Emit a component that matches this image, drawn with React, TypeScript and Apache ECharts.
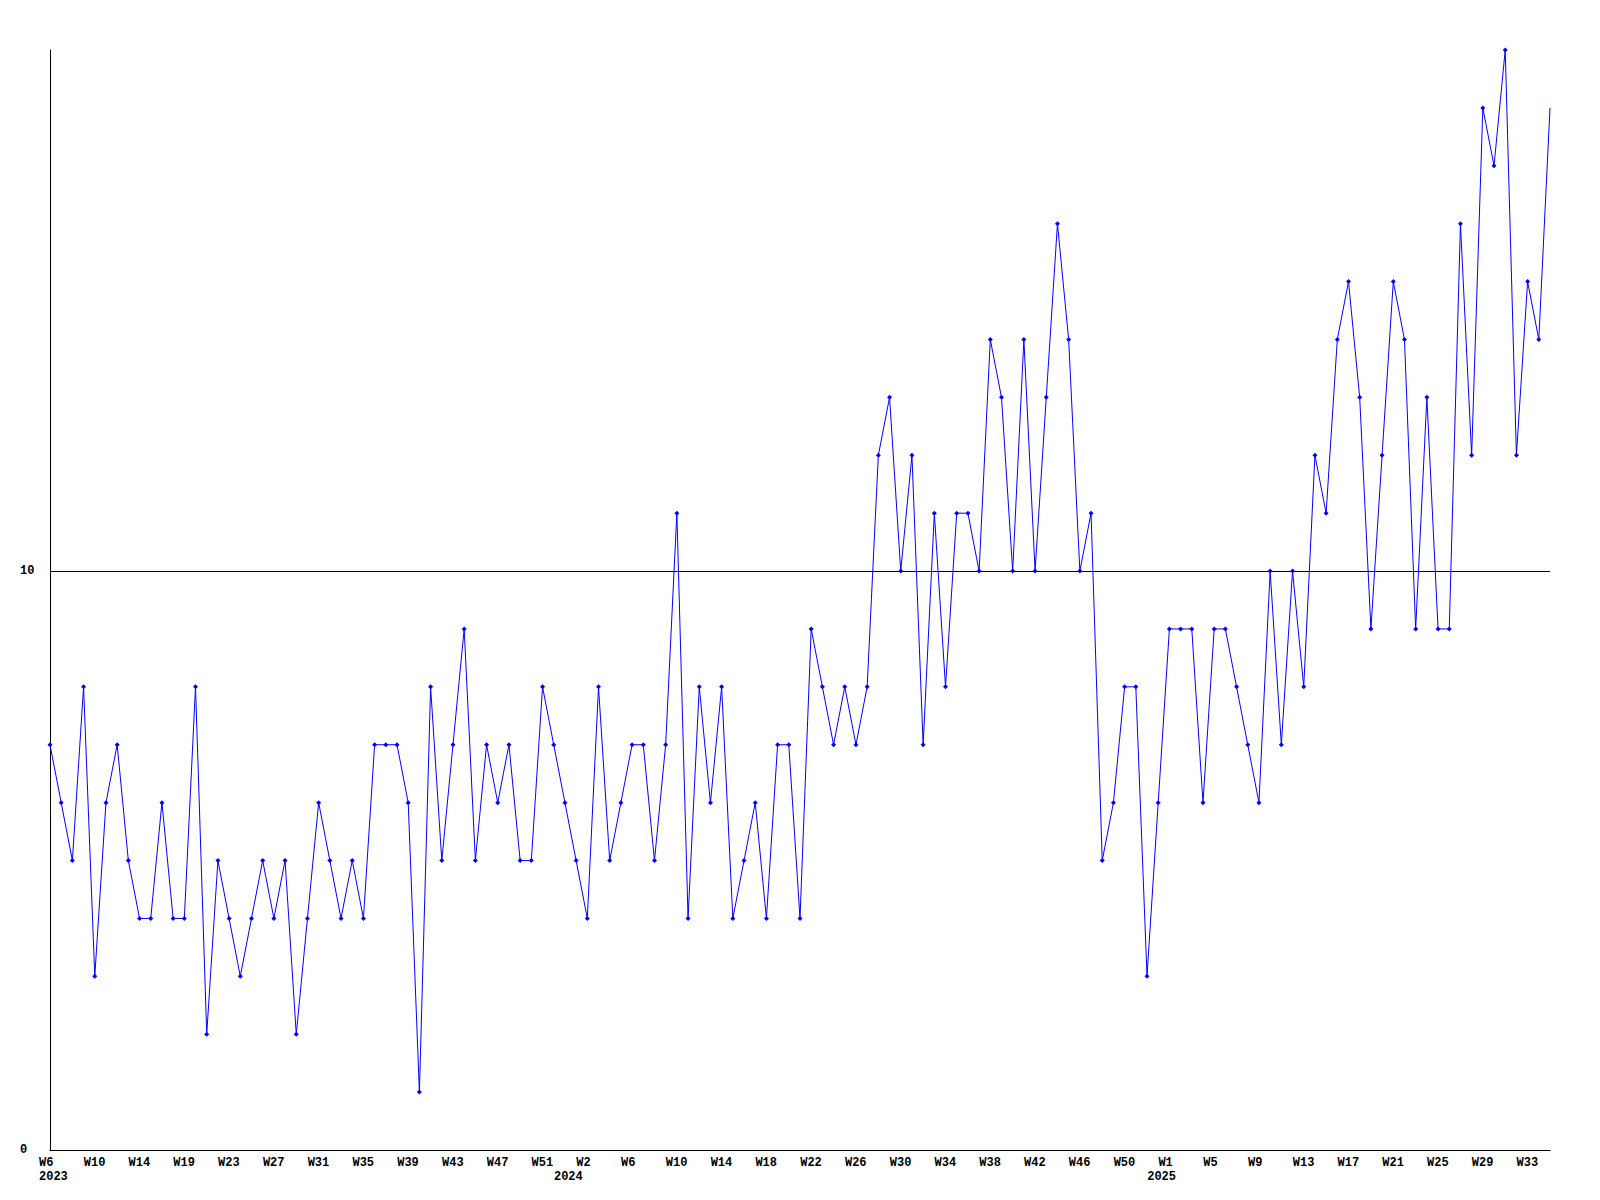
import React, { useEffect, useRef } from "react";
import * as echarts from "echarts";

// Weekly values, W6 2023 .. W35 2025
const values: number[] = [
  7, 6, 5, 8, 3, 6, 7, 5, 4, 4, 6, 4, 4, 8, 2, 5, 4, 3, 4, 5,
  4, 5, 2, 4, 6, 5, 4, 5, 4, 7, 7, 7, 6, 1, 8, 5, 7, 9, 5, 7,
  6, 7, 5, 5, 8, 7, 6, 5, 4, 8, 5, 6, 7, 7, 5, 7, 11, 4, 8, 6,
  8, 4, 5, 6, 4, 7, 7, 4, 9, 8, 7, 8, 7, 8, 12, 13, 10, 12, 7, 11,
  8, 11, 11, 10, 14, 13, 10, 14, 10, 13, 16, 14, 10, 11, 5, 6, 8, 8, 3, 6,
  9, 9, 9, 6, 9, 9, 8, 7, 6, 10, 7, 10, 8, 12, 11, 14, 15, 13, 9, 12,
  15, 14, 9, 13, 9, 9, 16, 12, 18, 17, 19, 12, 15, 14, 18,
];

// Week tick labels, one every 4 points starting at the first point
const weekTickLabels: string[] = [
  "W6", "W10", "W14", "W19", "W23", "W27", "W31", "W35", "W39", "W43",
  "W47", "W51", "W2", "W6", "W10", "W14", "W18", "W22", "W26", "W30",
  "W34", "W38", "W42", "W46", "W50", "W1", "W5", "W9", "W13", "W17",
  "W21", "W25", "W29", "W33",
];
const weekTickStep = 4;

// Year labels and the point index they sit under
const yearLabels: string[] = ["2023", "2024", "2025"];
const yearLabelIndex: number[] = [0, 46, 99];

const yMin = 0;
const yMax = 19;
const yInterval = 10;

export default function App() {
  const ref = useRef<HTMLDivElement>(null);

  useEffect(() => {
    if (!ref.current) return;
    const chart = echarts.init(ref.current, undefined, { renderer: "svg" });

    const categories = values.map((_, i) => {
      const w = i % weekTickStep === 0 ? weekTickLabels[i / weekTickStep] || "" : "";
      const yi = yearLabelIndex.indexOf(i);
      const y = yi >= 0 ? yearLabels[yi] : "";
      return w + "\n" + y;
    });

    const seriesData = values.map((v, i) =>
      i === values.length - 1 ? { value: v, symbol: "none" } : v
    );

    const font = "'Liberation Mono', 'DejaVu Sans Mono', monospace";

    chart.setOption({
      animation: false,
      backgroundColor: "#ffffff",
      grid: { left: 50, right: 50, top: 50, bottom: 50, containLabel: false },
      xAxis: {
        type: "category",
        data: categories,
        boundaryGap: false,
        axisLine: { show: true, lineStyle: { color: "#000", width: 1 } },
        axisTick: { show: false },
        splitLine: { show: false },
        axisLabel: {
          interval: 0,
          align: "left",
          padding: [0, 0, 0, -11],
          margin: 6,
          color: "#000",
          fontFamily: font,
          fontWeight: "bold",
          fontSize: 12,
          lineHeight: 14,
        },
      },
      yAxis: {
        type: "value",
        min: yMin,
        max: yMax,
        interval: yInterval,
        axisLine: { show: true, lineStyle: { color: "#000", width: 1 } },
        axisTick: { show: false },
        splitLine: {
          show: true,
          lineStyle: { color: ["#000", "#000", "rgba(0,0,0,0)"], width: 1 },
        },
        axisLabel: {
          showMaxLabel: false,
          align: "left",
          margin: 30,
          color: "#000",
          fontFamily: font,
          fontWeight: "bold",
          fontSize: 12,
        },
      },
      series: [
        {
          type: "line",
          data: seriesData,
          symbol: "diamond",
          symbolSize: 5,
          showAllSymbol: true,
          lineStyle: { color: "#0000ff", width: 1 },
          itemStyle: { color: "#0000ff" },
        },
      ],
    });

    return () => chart.dispose();
  }, []);

  return (
    <div
      ref={ref}
      style={{ position: "fixed", left: 0, top: 0, width: 1600, height: 1200 }}
    />
  );
}
